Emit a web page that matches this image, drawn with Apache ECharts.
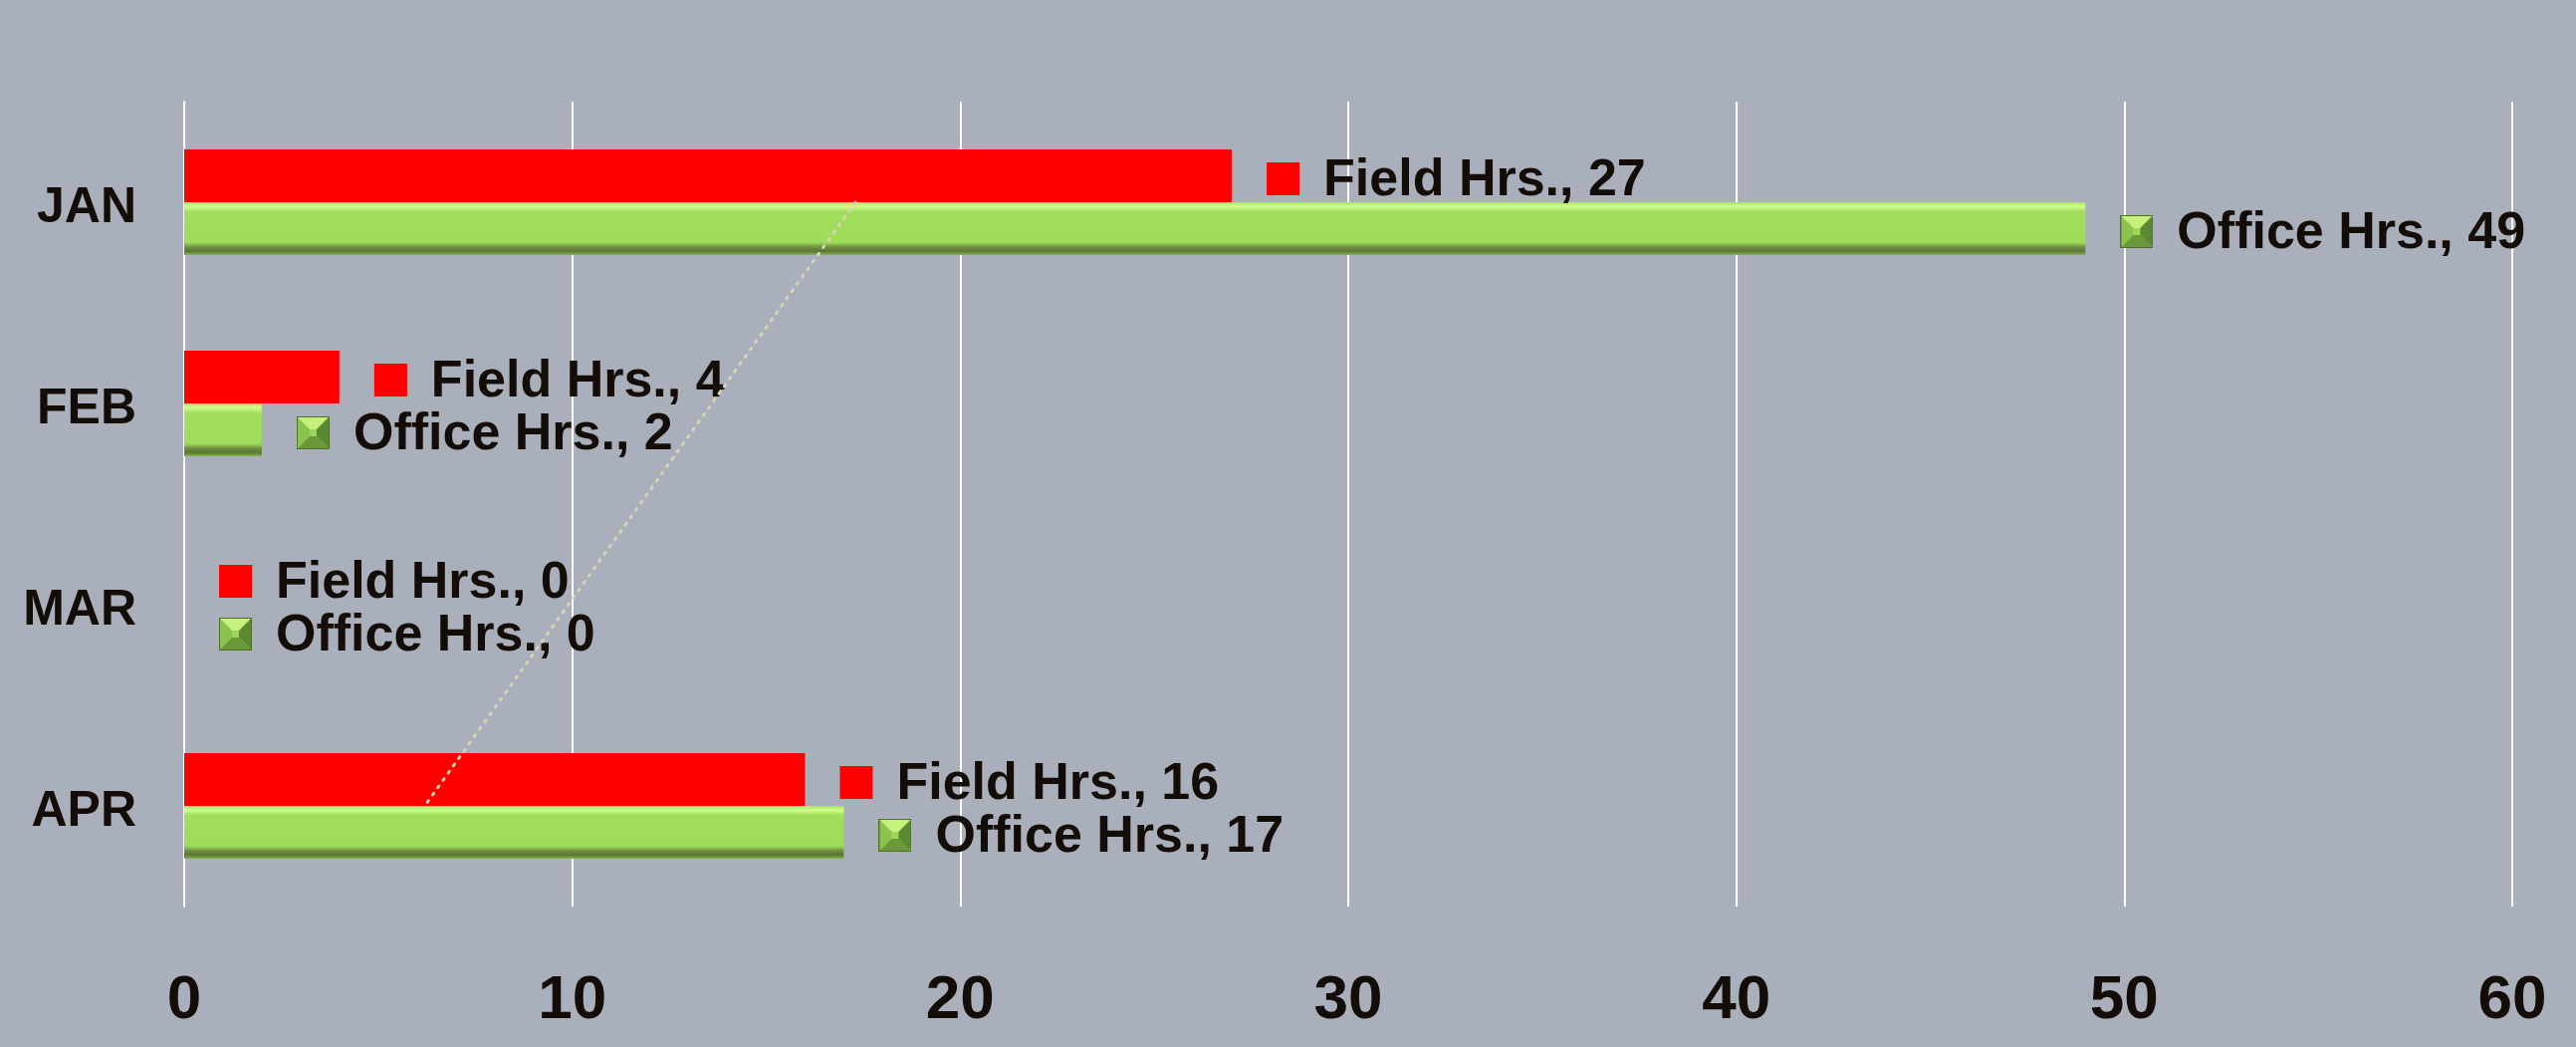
<!DOCTYPE html>
<html>
<head>
<meta charset="utf-8">
<script src="https://cdn.jsdelivr.net/npm/echarts@6/dist/echarts.min.js"></script>
<style>
html, body { margin: 0; padding: 0; background: #aab0bb; }
#main { width: 2587px; height: 1051px; }
</style>
</head>
<body>
<div id="main"></div>
<script>
var months = ['JAN', 'FEB', 'MAR', 'APR'];
var fieldHrs = [27, 4, 0, 16];
var officeHrs = [49, 2, 0, 17];
var fieldTrend = [17.3, null, null, 6.2]; // ends of the dotted trendline
var xTicks = [0, 10, 20, 30, 40, 50, 60];

var txtColor = '#140c06';
var fontName = '"Liberation Sans", Arial, sans-serif';

// small bevelled square used as the legend key of the green labels
function bevelSquare(s) {
    var c = document.createElement('canvas');
    c.width = s; c.height = s;
    var g = c.getContext('2d');
    var b = Math.round(s * 0.4);
    function poly(pts, col) {
        g.beginPath();
        g.moveTo(pts[0][0], pts[0][1]);
        for (var i = 1; i < pts.length; i++) g.lineTo(pts[i][0], pts[i][1]);
        g.closePath();
        g.fillStyle = col;
        g.fill();
    }
    g.fillStyle = '#9bd75a';
    g.fillRect(0, 0, s, s);
    poly([[0, 0], [s, 0], [s - b, b], [b, b]], '#c4f27c');
    poly([[0, 0], [b, b], [b, s - b], [0, s]], '#8cc24e');
    poly([[s, 0], [s, s], [s - b, s - b], [s - b, b]], '#5d8832');
    poly([[0, s], [s, s], [s - b, s - b], [b, s - b]], '#6c983c');
    g.strokeStyle = '#4f6e2a';
    g.lineWidth = 1;
    g.strokeRect(0.5, 0.5, s - 1, s - 1);
    return c;
}

var greenBar = {
    type: 'linear', x: 0, y: 0, x2: 0, y2: 1,
    colorStops: [
        { offset: 0, color: '#a8e068' },
        { offset: 0.08, color: '#d2ff8e' },
        { offset: 0.18, color: '#a2de5e' },
        { offset: 0.76, color: '#9edc5a' },
        { offset: 0.85, color: '#6e8f42' },
        { offset: 0.93, color: '#5b7636' },
        { offset: 1, color: '#86b450' }
    ]
};

function labelOpt(marker) {
    return {
        show: true,
        position: 'right',
        distance: 35,
        offset: [0, 3],
        formatter: function (p) {
            return '{m|}{g|}{t|' + p.seriesName + ', ' + p.value + '}';
        },
        rich: {
            m: { width: 33, height: 33, backgroundColor: marker },
            g: { width: 24 },
            t: { fontSize: 52, fontWeight: 'bold', color: txtColor, fontFamily: fontName, padding: [4, 0, 0, 0] }
        }
    };
}

var option = {
    backgroundColor: '#aab0bb',
    animation: false,
    grid: { left: 185, right: 64, top: 102, bottom: 141 },
    xAxis: {
        type: 'value',
        min: xTicks[0],
        max: xTicks[xTicks.length - 1],
        interval: xTicks[1] - xTicks[0],
        axisLine: { show: false },
        axisTick: { show: false },
        splitLine: { show: true, lineStyle: { color: '#ffffff', width: 2 } },
        axisLabel: { fontSize: 62, fontWeight: 'bold', color: txtColor, fontFamily: fontName, margin: 64 }
    },
    yAxis: {
        type: 'category',
        data: months,
        inverse: true,
        axisLine: { show: true, lineStyle: { color: '#ffffff', width: 2 } },
        axisTick: { show: false },
        axisLabel: {
            margin: 48,
            formatter: function (v) { return '{s|}{a|' + v + '}'; },
            rich: {
                s: { height: 62, width: 0 },
                a: { fontSize: 50, lineHeight: 50, fontWeight: 'bold', color: txtColor, fontFamily: fontName, verticalAlign: 'bottom' }
            }
        }
    },
    series: [
        {
            name: 'Field Hrs.',
            type: 'bar',
            data: fieldHrs,
            barWidth: 53,
            barGap: '0%',
            itemStyle: { color: '#ff0000' },
            label: labelOpt('#ff0000')
        },
        {
            name: 'Office Hrs.',
            type: 'bar',
            data: officeHrs,
            barWidth: 53,
            barGap: '0%',
            itemStyle: { color: greenBar },
            label: labelOpt({ image: bevelSquare(33) })
        },
        {
            name: 'Trend',
            type: 'line',
            data: fieldTrend,
            connectNulls: true,
            symbol: 'none',
            silent: true,
            z: 5,
            lineStyle: { color: '#d6d3b6', width: 3, type: [2, 7], cap: 'round' }
        }
    ]
};

var myChart = echarts.init(document.getElementById('main'));
myChart.setOption(option);
</script>
</body>
</html>
